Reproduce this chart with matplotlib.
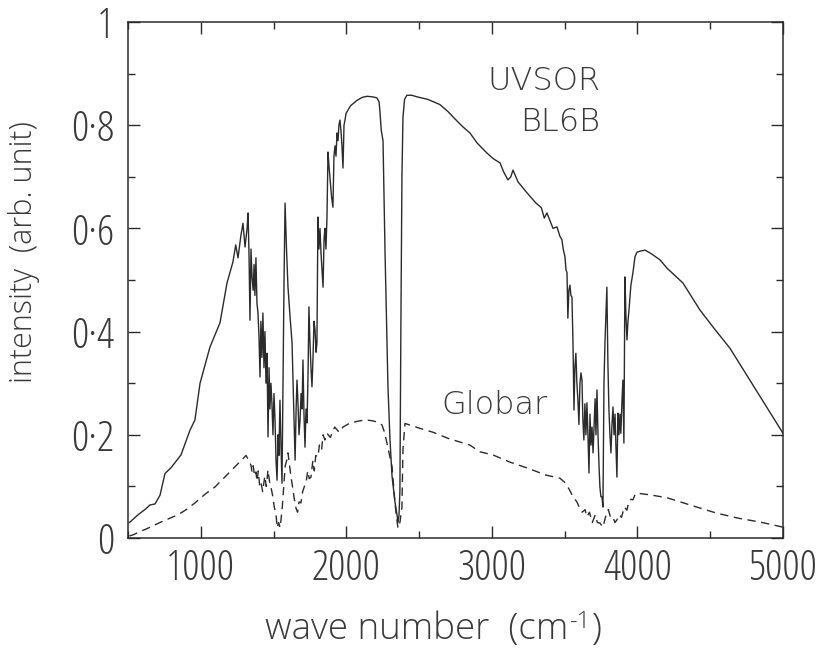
import matplotlib
matplotlib.use("Agg")
import matplotlib.pyplot as plt
import matplotlib.font_manager as fm
from matplotlib.ticker import MultipleLocator, FixedLocator

# UVSOR BL6B spectrum (solid line)
uvsor_x = [510, 569, 620, 651, 686, 720, 754, 795, 864, 926, 960, 995, 1063, 1132, 1180, 1221,
           1240, 1256, 1275, 1290, 1304, 1318, 1325, 1332, 1338, 1345, 1352, 1360, 1366, 1372,
           1379, 1386, 1393, 1400, 1407, 1413, 1420, 1427, 1434, 1441, 1448, 1455, 1462, 1469,
           1475, 1482, 1489, 1496, 1503, 1510, 1517, 1524, 1531, 1537, 1544, 1551, 1558, 1565,
           1572, 1579, 1589, 1599, 1613, 1627, 1634, 1641, 1648, 1655, 1661, 1668, 1675, 1682,
           1689, 1696, 1702, 1709, 1716, 1723, 1730, 1737, 1743, 1750, 1757, 1764, 1771, 1778,
           1785, 1792, 1798, 1805, 1812, 1819, 1826, 1833, 1840, 1847, 1853, 1860, 1867, 1874,
           1881, 1890, 1899, 1908, 1915, 1922, 1929, 1936, 1943, 1949, 1956, 1963, 1970, 1977,
           1984, 1991, 1998, 2030, 2073, 2110, 2142, 2180, 2210, 2225, 2231, 2240, 2252, 2266,
           2286, 2300, 2314, 2334, 2348, 2355, 2362, 2368, 2375, 2382, 2389, 2400, 2416, 2450,
           2485, 2560, 2643, 2700, 2733, 2800, 2849, 2900, 2966, 3010, 3056, 3080, 3110, 3130,
           3145, 3180, 3241, 3300, 3340, 3360, 3378, 3399, 3420, 3447, 3467, 3481, 3490, 3502,
           3509, 3516, 3522, 3529, 3536, 3543, 3550, 3557, 3564, 3570, 3577, 3584, 3591, 3598,
           3605, 3612, 3619, 3625, 3632, 3639, 3646, 3653, 3660, 3667, 3674, 3681, 3688, 3695,
           3702, 3709, 3715, 3722, 3729, 3736, 3742, 3749, 3756, 3763, 3770, 3777, 3784, 3790,
           3797, 3804, 3811, 3818, 3825, 3832, 3839, 3846, 3852, 3859, 3866, 3873, 3880, 3886,
           3893, 3900, 3907, 3914, 3921, 3928, 3935, 3942, 3955, 3969, 3983, 3997, 4020, 4052,
           4100, 4155, 4203, 4313, 4429, 4530, 4635, 4750, 4870, 5000]
uvsor_y = [0.030, 0.045, 0.056, 0.064, 0.066, 0.083, 0.125, 0.136, 0.161, 0.209, 0.229, 0.300,
           0.370, 0.417, 0.494, 0.535, 0.568, 0.543, 0.585, 0.610, 0.564, 0.600, 0.630, 0.540,
           0.422, 0.560, 0.506, 0.480, 0.530, 0.470, 0.543, 0.455, 0.436, 0.390, 0.312, 0.420,
           0.350, 0.436, 0.330, 0.400, 0.300, 0.358, 0.196, 0.330, 0.250, 0.300, 0.260, 0.200,
           0.280, 0.229, 0.150, 0.112, 0.200, 0.160, 0.267, 0.180, 0.106, 0.312, 0.500, 0.649,
           0.560, 0.487, 0.430, 0.378, 0.300, 0.220, 0.151, 0.250, 0.306, 0.260, 0.200, 0.229,
           0.280, 0.250, 0.345, 0.240, 0.176, 0.250, 0.223, 0.320, 0.448, 0.380, 0.330, 0.293,
           0.350, 0.420, 0.403, 0.360, 0.378, 0.622, 0.560, 0.600, 0.552, 0.520, 0.486, 0.580,
           0.600, 0.560, 0.622, 0.748, 0.720, 0.690, 0.660, 0.641, 0.740, 0.760, 0.740, 0.785,
           0.770, 0.800, 0.810, 0.790, 0.760, 0.717, 0.800, 0.810, 0.823, 0.838, 0.848, 0.854,
           0.856, 0.855, 0.853, 0.845, 0.826, 0.790, 0.770, 0.552, 0.293, 0.190, 0.120, 0.070,
           0.045, 0.030, 0.045, 0.090, 0.420, 0.700, 0.815, 0.850, 0.858, 0.858, 0.855, 0.850,
           0.840, 0.826, 0.816, 0.797, 0.785, 0.765, 0.746, 0.735, 0.727, 0.710, 0.694, 0.700,
           0.713, 0.690, 0.669, 0.650, 0.640, 0.620, 0.630, 0.615, 0.600, 0.603, 0.585, 0.578,
           0.560, 0.545, 0.520, 0.514, 0.426, 0.480, 0.490, 0.470, 0.467, 0.380, 0.248, 0.330,
           0.358, 0.300, 0.267, 0.220, 0.300, 0.320, 0.306, 0.230, 0.190, 0.260, 0.200, 0.262,
           0.200, 0.126, 0.240, 0.180, 0.215, 0.165, 0.220, 0.270, 0.200, 0.287, 0.200, 0.140,
           0.099, 0.080, 0.080, 0.060, 0.300, 0.380, 0.440, 0.486, 0.339, 0.250, 0.200, 0.165,
           0.220, 0.254, 0.200, 0.240, 0.180, 0.118, 0.242, 0.200, 0.240, 0.203, 0.260, 0.306,
           0.184, 0.506, 0.430, 0.384, 0.420, 0.442, 0.490, 0.514, 0.545, 0.554, 0.556, 0.558,
           0.550, 0.539, 0.523, 0.494, 0.442, 0.405, 0.368, 0.316, 0.262, 0.203]

# Globar spectrum (dashed line)
globar_x = [510, 534, 580, 637, 727, 843, 900, 960, 1030, 1098, 1200, 1311, 1330, 1345, 1352,
            1360, 1370, 1379, 1386, 1395, 1405, 1414, 1425, 1440, 1450, 1462, 1472, 1482, 1495,
            1505, 1517, 1525, 1535, 1545, 1551, 1560, 1570, 1580, 1590, 1599, 1610, 1620, 1630,
            1640, 1654, 1665, 1675, 1688, 1700, 1712, 1723, 1735, 1745, 1757, 1770, 1780, 1790,
            1805, 1815, 1830, 1840, 1853, 1867, 1890, 1920, 1950, 1977, 2020, 2073, 2130, 2183,
            2220, 2245, 2262, 2279, 2297, 2314, 2325, 2334, 2345, 2355, 2368, 2382, 2389, 2403,
            2500, 2595, 2700, 2828, 2849, 2918, 3007, 3124, 3250, 3370, 3467, 3500, 3530, 3557,
            3584, 3600, 3620, 3640, 3653, 3670, 3690, 3710, 3725, 3742, 3763, 3780, 3800, 3815,
            3832, 3845, 3859, 3875, 3890, 3910, 3928, 3940, 3955, 3969, 3985, 3997, 4100, 4203,
            4350, 4546, 4700, 4842, 5000]
globar_y = [0.004, 0.006, 0.012, 0.019, 0.031, 0.045, 0.055, 0.068, 0.085, 0.099, 0.128, 0.160,
            0.150, 0.141, 0.128, 0.140, 0.120, 0.128, 0.110, 0.130, 0.100, 0.107, 0.090, 0.120,
            0.100, 0.132, 0.110, 0.099, 0.080, 0.060, 0.045, 0.020, 0.030, 0.020, 0.035, 0.060,
            0.100, 0.140, 0.150, 0.165, 0.140, 0.118, 0.100, 0.080, 0.058, 0.050, 0.070, 0.068,
            0.090, 0.100, 0.107, 0.130, 0.115, 0.118, 0.150, 0.130, 0.160, 0.157, 0.180, 0.170,
            0.200, 0.190, 0.203, 0.195, 0.215, 0.205, 0.215, 0.222, 0.226, 0.229, 0.227, 0.224,
            0.219, 0.205, 0.184, 0.160, 0.138, 0.100, 0.068, 0.040, 0.019, 0.030, 0.060, 0.171,
            0.222, 0.213, 0.205, 0.193, 0.182, 0.180, 0.167, 0.161, 0.147, 0.135, 0.122, 0.116,
            0.108, 0.095, 0.080, 0.070, 0.060, 0.050, 0.055, 0.041, 0.050, 0.030, 0.045, 0.030,
            0.029, 0.021, 0.040, 0.055, 0.040, 0.041, 0.030, 0.035, 0.045, 0.040, 0.060, 0.054,
            0.070, 0.075, 0.074, 0.085, 0.087, 0.083, 0.078, 0.065, 0.048, 0.038, 0.031, 0.021]

x_ticks = [1000, 2000, 3000, 4000, 5000]
y_ticks = [0, 0.2, 0.4, 0.6, 0.8, 1.0]
y_labels = ["0", "0·2", "0·4", "0·6", "0·8", "1"]

ink = "#2b2b2b"
txt = "#3a3a3a"

# thin, narrow font for the tick numbers if there is one (Open Sans Condensed Light)
cond = [f.fname for f in fm.fontManager.ttflist
        if "condlight" in f.fname.lower().replace("-", "").replace("_", "")
        and "italic" not in f.fname.lower()]
if cond:
    tick_font = fm.FontProperties(fname=cond[0], size=31)
else:
    tick_font = fm.FontProperties(family="DejaVu Sans", stretch="condensed", size=26)
label_font = dict(family=["Open Sans", "DejaVu Sans"], weight="light", color=txt)

fig = plt.figure(figsize=(8.3, 6.49), dpi=100)
ax = fig.add_axes([128 / 830, 1 - 538 / 649, 655 / 830, 516 / 649])

ax.plot(uvsor_x, uvsor_y, color=ink, lw=1.0)
ax.plot(globar_x, globar_y, color=ink, lw=1.0, dashes=(6, 4))

ax.set_xlim(500, 5000)
ax.set_ylim(0, 1)

ax.xaxis.set_major_locator(FixedLocator(x_ticks))
ax.xaxis.set_minor_locator(MultipleLocator(500))
ax.yaxis.set_major_locator(FixedLocator(y_ticks))
ax.yaxis.set_minor_locator(MultipleLocator(0.1))
ax.set_xticklabels([str(t) for t in x_ticks], fontproperties=tick_font, color=txt)
ax.set_yticklabels(y_labels, fontproperties=tick_font, color=txt)

ax.tick_params(which="both", direction="in", top=True, right=True, color=ink, width=1)
ax.tick_params(which="major", length=8.5)
ax.tick_params(which="minor", length=5)
ax.tick_params(axis="x", which="major", pad=7)
ax.tick_params(axis="y", which="major", pad=10)
for s in ax.spines.values():
    s.set_color(ink)
    s.set_linewidth(1.1)

fig.text(24 / 830, 1 - 252 / 649, "intensity  (arb. unit)", rotation=90, ha="center",
         va="center", size=22, **label_font)

# x label built from pieces so the -1 sits as a superscript
xl = fig.text(265 / 830, 1 - 639 / 649, "wave number  (cm", ha="left", va="baseline",
              size=26.5, **label_font)
sup = ax.annotate("-1", xy=(1, 1), xycoords=xl, xytext=(1, 1), textcoords="offset points",
                  ha="left", va="top", size=17, annotation_clip=False, **label_font)
ax.annotate(")", xy=(1, 0), xycoords=(sup, xl), xytext=(1, 0), textcoords="offset points",
            ha="left", va="bottom", size=26.5, annotation_clip=False, **label_font)

ax.text(3355, 0.885, "UVSOR", ha="center", va="center", size=23, weight="light", color=txt)
ax.text(3745, 0.807, "BL6B", ha="right", va="center", size=23, weight="light", color=txt)
ax.text(3020, 0.258, "Globar", ha="center", va="center", size=23, weight="light", color=txt)

fig.savefig("out.png", dpi=100)
